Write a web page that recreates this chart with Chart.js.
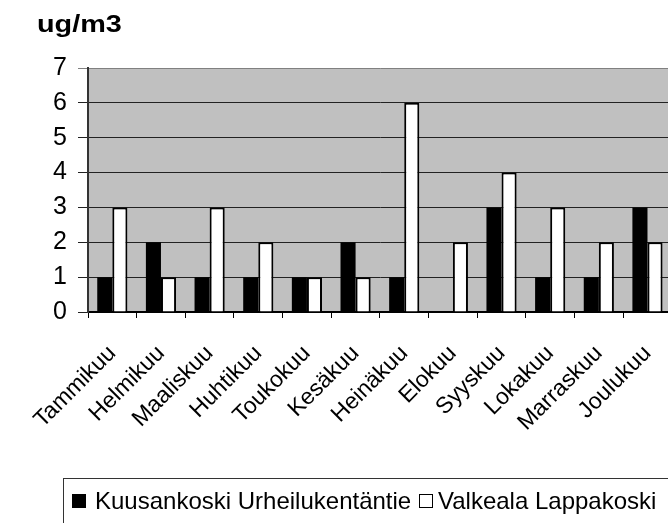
<!DOCTYPE html>
<html>
<head>
<meta charset="utf-8">
<script src="https://cdn.jsdelivr.net/npm/chart.js@4.4.0/dist/chart.umd.min.js"></script>
<style>
  html, body { margin: 0; padding: 0; background: #fff; overflow: hidden; }
  #wrap { position: relative; width: 668px; height: 523px; overflow: hidden; font-family: "Liberation Sans", Arial, sans-serif; }
  #chart { position: absolute; left: 0; top: 0; }
  #title { position: absolute; left: 37px; top: 10px; font-size: 24px; font-weight: bold; color: #000; transform: scaleX(1.2); transform-origin: left top; }
  #legend { position: absolute; left: 63px; top: 478px; width: 640px; height: 80px; border: 1px solid #333; box-sizing: border-box; }
  .lg { position: absolute; top: 9px; font-size: 24px; color: #000; white-space: nowrap; line-height: 26px; }
  .sq { position: absolute; top: 15px; width: 14px; height: 14px; box-sizing: border-box; border: 1px solid #000; }
</style>
</head>
<body>
<div id="wrap">
  <canvas id="chart" width="689" height="523"></canvas>
  <div id="title">ug/m3</div>
  <div id="legend">
    <span class="sq" style="left:8px;background:#000"></span>
    <span class="lg" style="left:31px">Kuusankoski Urheilukentäntie</span>
    <span class="sq" style="left:355px;background:#fff"></span>
    <span class="lg" style="left:374px">Valkeala Lappakoski</span>
  </div>
</div>
<script>
const months = ['Tammikuu', 'Helmikuu', 'Maaliskuu', 'Huhtikuu', 'Toukokuu', 'Kesäkuu',
                'Heinäkuu', 'Elokuu', 'Syyskuu', 'Lokakuu', 'Marraskuu', 'Joulukuu'];
const kuusankoski = [1, 2, 1, 1, 1, 2, 1, null, 3, 1, 1, 3];
const valkeala = [3, 1, 3, 2, 1, 1, 6, 2, 4, 3, 2, 2];
const yMin = 0, yMax = 7, yStep = 1;

const plotBg = {
    id: 'plotBg',
    beforeDraw(chart) {
        const { ctx, chartArea: a } = chart;
        ctx.save();
        ctx.fillStyle = '#c0c0c0';
        ctx.fillRect(a.left, a.top, a.width, a.height);
        ctx.restore();
    }
};

const font = '"Liberation Sans", Arial, sans-serif';

new Chart(document.getElementById('chart'), {
    type: 'bar',
    data: {
        labels: months,
        datasets: [
            { label: 'Kuusankoski Urheilukentäntie', data: kuusankoski, backgroundColor: '#000', borderWidth: 0 },
            { label: 'Valkeala Lappakoski', data: valkeala, backgroundColor: '#fff', borderColor: '#000', borderWidth: 2 }
        ]
    },
    options: {
        responsive: false,
        animation: false,
        datasets: { bar: { categoryPercentage: 0.62, barPercentage: 1 } },
        layout: { padding: { top: 68, right: 0, left: 0, bottom: 0 } },
        plugins: { legend: { display: false }, tooltip: { enabled: false } },
        scales: {
            x: {
                offset: true,
                afterFit: s => { s.height = 211; },
                grid: { offset: true, drawOnChartArea: false, tickLength: 6, color: '#000' },
                border: { color: '#000', width: 2 },
                ticks: {
                    color: '#000', minRotation: 45, maxRotation: 45, padding: 22,
                    font: { family: font, size: 23 }
                }
            },
            y: {
                min: yMin, max: yMax,
                afterFit: s => { s.width = 88; },
                grid: {
                    tickLength: 10,
                    color: ctx => ctx.tick && ctx.tick.value === yMax ? '#808080' : '#222',
                    lineWidth: 1
                },
                border: { color: '#333', width: 2 },
                ticks: {
                    stepSize: yStep, color: '#000', padding: 11,
                    font: { family: font, size: 25 }
                }
            }
        }
    },
    plugins: [plotBg]
});
</script>
</body>
</html>
